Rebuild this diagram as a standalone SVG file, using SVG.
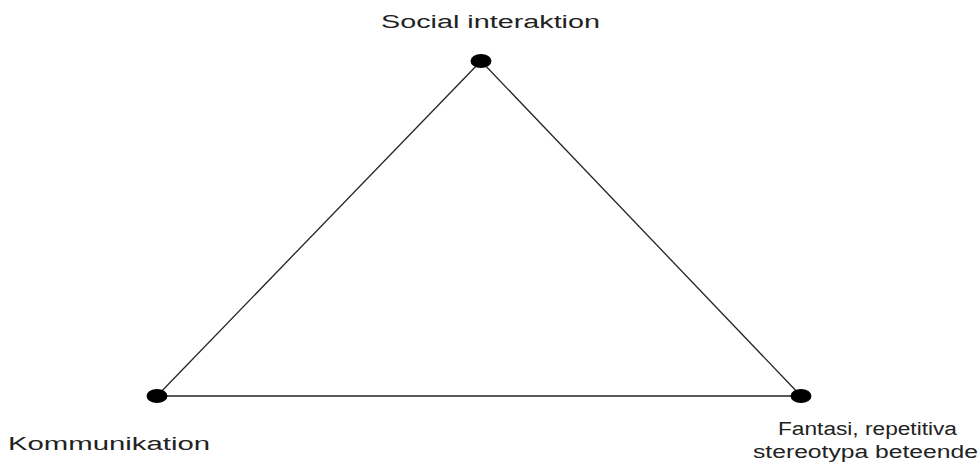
<svg xmlns="http://www.w3.org/2000/svg" width="979" height="465" viewBox="0 0 979 465">
<style>
.lbl{font-family:"Liberation Sans",Arial,sans-serif;font-size:18px;fill:#222}
.edge{stroke:#222;stroke-width:1.3;fill:none}
.dot{fill:#000}
</style>
<rect width="979" height="465" fill="#fff"/>
<g id="connectors">
<line class="edge" x1="481" y1="61" x2="157" y2="396"/>
<line class="edge" x1="481" y1="61" x2="801" y2="396"/>
<line class="edge" x1="157" y1="396" x2="801" y2="396"/>
</g>
<g id="social">
<ellipse class="dot" cx="481" cy="61" rx="10.5" ry="7"/>
<text class="lbl" x="381" y="28" textLength="219" lengthAdjust="spacingAndGlyphs">Social interaktion</text>
</g>
<g id="kommunikation">
<ellipse class="dot" cx="157" cy="396" rx="10.5" ry="7"/>
<text class="lbl" x="8" y="450" textLength="202" lengthAdjust="spacingAndGlyphs">Kommunikation</text>
</g>
<g id="fantasi">
<ellipse class="dot" cx="801" cy="396" rx="10.5" ry="7"/>
<text class="lbl" x="778" y="435" textLength="179" lengthAdjust="spacingAndGlyphs">Fantasi, repetitiva</text>
<text class="lbl" x="753" y="458" textLength="225" lengthAdjust="spacingAndGlyphs">stereotypa beteende</text>
</g>
</svg>
